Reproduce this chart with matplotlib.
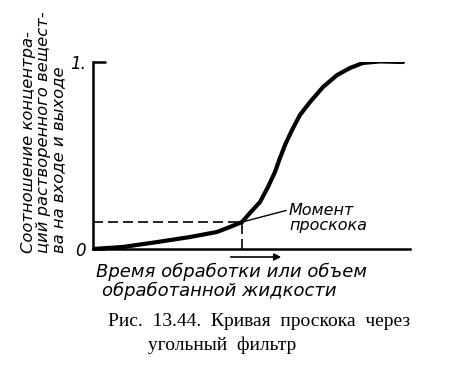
import matplotlib
matplotlib.use("Agg")
import matplotlib.pyplot as plt
from matplotlib.patches import FancyArrowPatch

# breakthrough curve (x in arbitrary units, y = C/C0)
curve_x = [0, 30, 64, 97, 124, 137, 149, 157, 167, 175, 182, 187, 192, 199,
           207, 217, 230, 244, 257, 270, 287, 310]
curve_y = [0, 0.011, 0.037, 0.064, 0.091, 0.118, 0.144, 0.193, 0.251, 0.332,
           0.412, 0.487, 0.556, 0.636, 0.717, 0.786, 0.866, 0.930, 0.968,
           0.995, 1.003, 1.0]
break_x = 149
break_y = 0.144
ytick_vals = [0, 1]
ytick_labels = ["0", "1."]

W, H = 454, 390
fig = plt.figure(figsize=(W / 100, H / 100), dpi=100)
fig.patch.set_facecolor("white")

# axes: origin at px (93, 249), y=1 at px 62, x axis to px 410
ax = fig.add_axes([93 / W, (H - 249) / H, 317 / W, 187 / H])
ax.set_xlim(0, 317)
ax.set_ylim(0, 1)
for side in ("top", "right"):
    ax.spines[side].set_visible(False)
for side in ("left", "bottom"):
    ax.spines[side].set_linewidth(1.8)
ax.set_xticks([])
ax.set_yticks(ytick_vals, labels=ytick_labels)
ax.tick_params(axis="y", direction="in", length=9, width=1.8, pad=5,
               labelsize=12)
for lab in ax.get_yticklabels():
    lab.set_fontstyle("italic")
ax.patch.set_alpha(0)

ax.plot(curve_x, curve_y, color="black", linewidth=3,
        solid_capstyle="round", solid_joinstyle="round")

# dashed guides to the breakthrough point
ax.plot([0, break_x], [break_y, break_y], color="black", linewidth=1.2,
        dashes=(6, 3))
ax.plot([break_x, break_x], [0, break_y], color="black", linewidth=1.2,
        dashes=(6, 3))

ax.annotate("Момент\nпроскока", xy=(break_x, break_y), xytext=(196, 0.085),
            fontsize=11.5, fontstyle="italic", linespacing=1.0,
            ha="left", va="bottom",
            arrowprops=dict(arrowstyle="-", color="black", lw=1,
                            shrinkA=0, shrinkB=0,
                            relpos=(0, 0.78)))

# axis titles (rotated lines start at the bottom, like the drawing)
fig.text(44 / W, 1 - 253 / H,
         "Соотношение концентра-\nций растворенного вещест-\nва на входе и выходе",
         rotation=90, ha="center", va="bottom", multialignment="left",
         fontsize=11.8, fontstyle="italic", linespacing=1.0)
fig.text(96 / W, 1 - 272 / H, "Время обработки или объем",
         ha="left", va="center", fontsize=13, fontstyle="italic")
fig.text(102 / W, 1 - 291 / H, "обработанной жидкости",
         ha="left", va="center", fontsize=13, fontstyle="italic")
fig.add_artist(FancyArrowPatch(
    (228 / W, 1 - 257 / H), (284 / W, 1 - 257 / H),
    transform=fig.transFigure, arrowstyle="-|>", mutation_scale=10,
    color="black", lw=1.2))

# caption
fig.text(108 / W, 1 - 322 / H, "Рис.  13.44.  Кривая  проскока  через",
         ha="left", va="center", fontsize=14, family="Liberation Serif")
fig.text(148 / W, 1 - 345 / H, "угольный  фильтр",
         ha="left", va="center", fontsize=14, family="Liberation Serif")

fig.savefig("out.png", dpi=100, facecolor="white")
